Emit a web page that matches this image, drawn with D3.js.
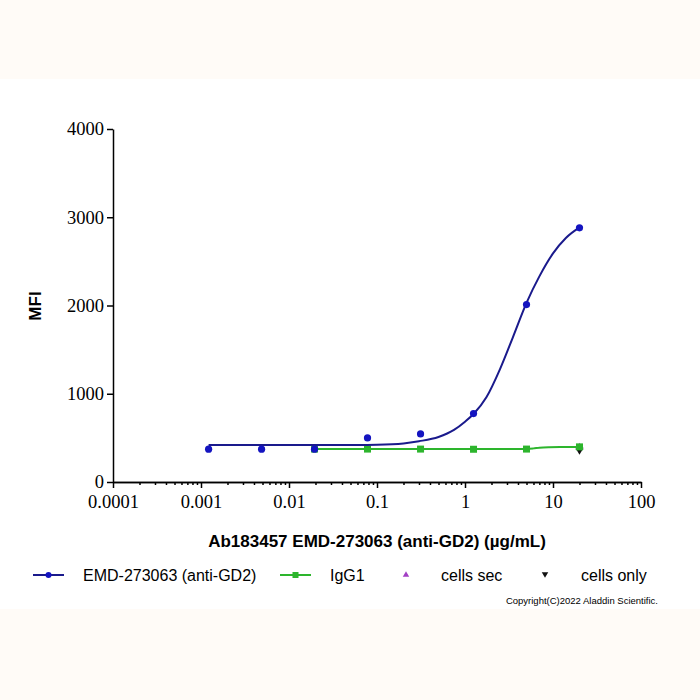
<!DOCTYPE html>
<html lang="en">
<head>
    <meta charset="UTF-8">
    <title>EMD-273063 binding curve</title>
    <script src="https://cdn.jsdelivr.net/npm/d3@7"></script>
    <style>
        body{ margin: 0; background: #fffbf7; }
        #canvas{ display: block; }
        .axis path, .axis line{ stroke: #000; stroke-width: 1.5px; }
        .axis text{ font-family: "Liberation Serif", "Times New Roman", serif; font-size: 18.5px; fill: #000; }
        .title{ font-family: "Liberation Sans", Arial, sans-serif; font-weight: bold; font-size: 17px; }
        .legend text{ font-family: "Liberation Sans", Arial, sans-serif; font-size: 16px; }
    </style>
</head>
<body>
<svg id="canvas" width="700" height="700"></svg>
<script>
    // concentrations (ug/mL), 4-fold dilutions
    let conc_anti = [0.00122, 0.00488, 0.0195, 0.078, 0.3125, 1.25, 5, 20]
    let mfi_anti  = [372, 372, 372, 500, 545, 775, 2010, 2880]
    let conc_igg  = [0.0195, 0.078, 0.3125, 1.25, 5, 20]
    let mfi_igg   = [373, 373, 373, 371, 373, 398]
    let conc_sec  = [20]
    let mfi_sec   = [390]
    let conc_only = [20]
    let mfi_only  = [362]

    // fitted curves
    let fit_anti_x = [0.00122, 0.01, 0.05, 0.1, 0.2, 0.3, 0.5, 0.75, 1, 1.25, 1.75, 2.5, 3.5, 5, 7, 10, 14, 20]
    let fit_anti_y = [418, 418, 420, 423, 437, 462, 510, 590, 683, 770, 960, 1280, 1640, 2030, 2330, 2590, 2765, 2885]
    let fit_igg_x = [0.0195, 0.1, 1, 4, 5, 6, 7, 9, 12, 20]
    let fit_igg_y = [373, 373, 373, 373, 375, 381, 388, 394, 397, 398]

    let xTicks = [0.0001, 0.001, 0.01, 0.1, 1, 10, 100]
    let xTickLabels = ["0.0001", "0.001", "0.01", "0.1", "1", "10", "100"]
    let yTicks = [0, 1000, 2000, 3000, 4000]

    let seriesNames = ["EMD-273063 (anti-GD2)", "IgG1", "cells sec", "cells only"]
    let blue = "#1a1a8c", blueDot = "#1414c0", green = "#2db52d", purple = "#a23fc4"

    let svg = d3.select('#canvas')

    // backdrop: cream bands top and bottom, white plate
    svg.append("rect").attr("width", 700).attr("height", 700).attr("fill", "#fffbf7")
    svg.append("rect").attr("y", 79).attr("width", 700).attr("height", 530).attr("fill", "#ffffff")

    let x = d3.scaleLog().domain([1e-4, 100]).range([113, 641])
    let y = d3.scaleLinear().domain([0, 4000]).range([482, 129])

    // minor ticks 2..9 in every decade
    let minor = []
    xTicks.slice(0, -1).forEach(d => { for (let k = 2; k < 10; k++) minor.push(d * k) })

    svg.append("g").attr("class", "axis")
        .attr("transform", "translate(0,482)")
        .call(d3.axisBottom(x).tickValues(minor).tickSize(3).tickSizeOuter(0).tickFormat(""))
    svg.append("g").attr("class", "axis")
        .attr("transform", "translate(0,482)")
        .call(d3.axisBottom(x).tickValues(xTicks).tickSize(6).tickSizeOuter(0).tickPadding(7)
            .tickFormat((d, i) => xTickLabels[i]))
    svg.append("g").attr("class", "axis")
        .attr("transform", "translate(113,0)")
        .call(d3.axisLeft(y).tickValues(yTicks).tickSize(6).tickSizeOuter(0).tickPadding(3)
            .tickFormat(d3.format("d")))

    // titles
    svg.append("text").attr("class", "title")
        .attr("x", 377).attr("y", 547).attr("text-anchor", "middle")
        .text("Ab183457 EMD-273063 (anti-GD2) (\u00b5g/mL)")
    svg.append("text").attr("class", "title")
        .attr("transform", "translate(41,306) rotate(-90)").attr("text-anchor", "middle")
        .text("MFI")

    let line = d3.line().x(d => x(d[0])).y(d => y(d[1])).curve(d3.curveMonotoneX)
    let tri = d3.symbol().type(d3.symbolTriangle).size(30)

    let plot = svg.append("g")

    // cells only (inverted triangles) and cells sec
    plot.selectAll(".only").data(d3.zip(conc_only, mfi_only)).enter()
        .append("path").attr("d", tri)
        .attr("transform", d => `translate(${x(d[0])},${y(d[1])}) rotate(180)`).attr("fill", "#111")
    plot.selectAll(".sec").data(d3.zip(conc_sec, mfi_sec)).enter()
        .append("path").attr("d", tri)
        .attr("transform", d => `translate(${x(d[0])},${y(d[1])})`).attr("fill", purple)

    // IgG1
    plot.append("path").datum(d3.zip(fit_igg_x, fit_igg_y))
        .attr("d", line).attr("fill", "none").attr("stroke", green).attr("stroke-width", 2)
    plot.selectAll(".igg").data(d3.zip(conc_igg, mfi_igg)).enter()
        .append("rect").attr("x", d => x(d[0]) - 3.5).attr("y", d => y(d[1]) - 3.5)
        .attr("width", 7).attr("height", 7).attr("fill", green)

    // anti-GD2
    plot.append("path").datum(d3.zip(fit_anti_x, fit_anti_y))
        .attr("d", line).attr("fill", "none").attr("stroke", blue).attr("stroke-width", 2)
    plot.selectAll(".anti").data(d3.zip(conc_anti, mfi_anti)).enter()
        .append("circle").attr("cx", d => x(d[0])).attr("cy", d => y(d[1]))
        .attr("r", 3.6).attr("fill", blueDot)

    // Legend
    let lg = svg.append("g").attr("class", "legend")
    let ly = 575
    lg.append("line").attr("x1", 33).attr("x2", 64).attr("y1", ly).attr("y2", ly)
        .attr("stroke", blue).attr("stroke-width", 2)
    lg.append("circle").attr("cx", 48.5).attr("cy", ly).attr("r", 3).attr("fill", blueDot)
    lg.append("line").attr("x1", 280).attr("x2", 311).attr("y1", ly).attr("y2", ly)
        .attr("stroke", green).attr("stroke-width", 2)
    lg.append("rect").attr("x", 292.5).attr("y", ly - 3).attr("width", 6).attr("height", 6).attr("fill", green)
    lg.append("path").attr("d", d3.symbol().type(d3.symbolTriangle).size(18))
        .attr("transform", `translate(406,${ly})`).attr("fill", purple)
    lg.append("path").attr("d", d3.symbol().type(d3.symbolTriangle).size(18))
        .attr("transform", `translate(545,${ly - 1}) rotate(180)`).attr("fill", "#111")
    let textX = [83, 330, 441, 581]
    seriesNames.forEach((n, i) => {
        lg.append("text").attr("x", textX[i]).attr("y", ly + 6).text(n)
    })

    svg.append("text").attr("x", 658).attr("y", 604).attr("text-anchor", "end")
        .attr("font-family", "Liberation Sans, Arial, sans-serif").attr("font-size", 9.5)
        .text("Copyright(C)2022 Aladdin Scientific.")
</script>
</body>
</html>
